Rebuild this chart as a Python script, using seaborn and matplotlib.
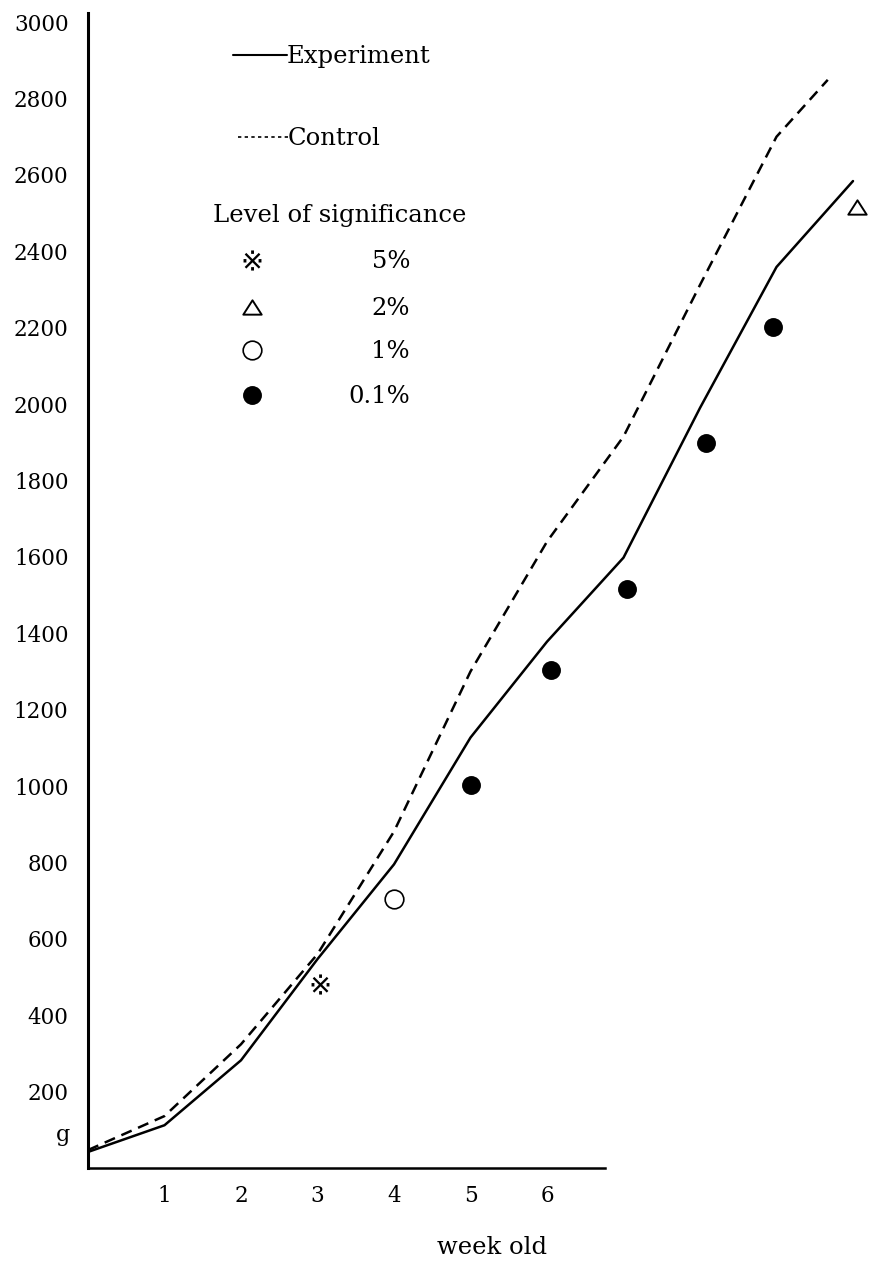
import matplotlib
matplotlib.use("Agg")
import matplotlib.pyplot as plt
from matplotlib.path import Path
import pandas as pd
import seaborn as sns

# ---------------- data ----------------
weeks_exp = [0, 1, 2, 3, 4, 5, 6, 7, 8, 9, 10]
experiment = [42, 112, 282, 547, 795, 1127, 1378, 1598, 1990, 2359, 2584]
weeks_ctrl = [0, 1, 2, 3, 4, 5, 6, 7, 8, 9, 9.67]
control = [47, 136, 324, 560, 881, 1300, 1640, 1915, 2312, 2700, 2849]

sig_weeks = [3.03, 4, 5, 6.05, 7.05, 8.08, 8.95, 10.05]
sig_values = [481, 704, 1002, 1305, 1515, 1899, 2202, 2516]
sig_levels = ["5%", "1%", "0.1%", "0.1%", "0.1%", "0.1%", "0.1%", "2%"]
level_order = ["5%", "2%", "1%", "0.1%"]

y_ticks = [200, 400, 600, 800, 1000, 1200, 1400, 1600, 1800, 2000,
           2200, 2400, 2600, 2800, 3000]
x_ticks = [1, 2, 3, 4, 5, 6]
x_label = "week old"
unit_label = "g"
legend_title = "Level of significance"

# ---------------- figure ----------------
W, H = 873, 1261
sns.set_theme(style="white")
plt.rcParams["font.family"] = ["DejaVu Serif", "DejaVu Sans"]
plt.rcParams["text.color"] = "black"
plt.rcParams["axes.labelcolor"] = "black"
plt.rcParams["xtick.color"] = "black"
plt.rcParams["ytick.color"] = "black"

fig = plt.figure(figsize=(W / 100, H / 100), dpi=100)
ax_left, ax_bottom, ax_top = 88, 1168, 13
ax = fig.add_axes([ax_left / W, (H - ax_bottom) / H, 1 - ax_left / W, (ax_bottom - ax_top) / H])

week_px = 76.5
ax.set_xlim(0, (W - ax_left) / week_px)
ax.set_ylim(0, 3024)

def fx(px):
    return px / W

def fy(py):
    return 1 - py / H

lines = pd.DataFrame({
    "week": weeks_exp + weeks_ctrl,
    "weight": experiment + control,
    "group": ["Experiment"] * len(weeks_exp) + ["Control"] * len(weeks_ctrl),
})
sns.lineplot(data=lines, x="week", y="weight", style="group",
             dashes={"Experiment": "", "Control": (4.5, 2.8)},
             color="black", linewidth=1.8, legend=False, sort=False, ax=ax)

sig = pd.DataFrame({"week": sig_weeks, "weight": sig_values, "level": sig_levels})
tri = Path([(-1, -0.78), (1, -0.78), (0, 0.78), (-1, -0.78)],
           [Path.MOVETO, Path.LINETO, Path.LINETO, Path.CLOSEPOLY])
marker_style = {
    "5%": dict(marker="$※$", s=210, color="black", linewidth=0),
    "2%": dict(marker=tri, s=175, facecolor="white", edgecolor="black", linewidth=1.4),
    "1%": dict(marker="o", s=180, facecolor="white", edgecolor="black", linewidth=1.2),
    "0.1%": dict(marker="o", s=185, color="black", linewidth=0),
}
for lvl in level_order:
    sub = sig[sig["level"] == lvl]
    sns.scatterplot(data=sub, x="week", y="weight", ax=ax, legend=False,
                    zorder=5, **marker_style[lvl])

# axes styling
for s in ["top", "right"]:
    ax.spines[s].set_visible(False)
ax.spines["left"].set_linewidth(2.2)
ax.spines["bottom"].set_linewidth(1.8)
ax.spines["left"].set_color("black")
ax.spines["bottom"].set_color("black")
ax.spines["left"].set_bounds(0, 3024)
ax.spines["bottom"].set_bounds(0, (605 - ax_left) / week_px)

ax.set_yticks(y_ticks)
ax.set_yticklabels([str(v) for v in y_ticks])
ax.set_xticks(x_ticks)
ax.set_xticklabels([str(v) for v in x_ticks])
ax.tick_params(axis="y", length=0, pad=14, labelsize=15.5, colors="black")
ax.tick_params(axis="x", length=0, pad=12, labelsize=15.5, colors="black")
ax.set_xlabel("")
ax.set_ylabel("")
ax.grid(False)

fig.text(fx(70), fy(1135), unit_label, ha="right", va="center", fontsize=16, color="black")
fig.text(fx(492), fy(1247), x_label, ha="center", va="center", fontsize=17.5, color="black")

# legend block (manual, as in the reference)
fs = 17.5
fig.add_artist(plt.Line2D([fx(233), fx(287)], [fy(55), fy(55)], color="black", lw=1.5))
fig.text(fx(287), fy(63), "Experiment", ha="left", va="baseline", fontsize=fs, color="black")
fig.add_artist(plt.Line2D([fx(238), fx(288)], [fy(137), fy(137)], color="black",
                          lw=1.2, linestyle=(0, (2, 2))))
fig.text(fx(288), fy(145), "Control", ha="left", va="baseline", fontsize=fs, color="black")
fig.text(fx(213), fy(222), legend_title, ha="left", va="baseline", fontsize=fs, color="black")

leg_y = [260, 307, 350, 395]
for lvl, py in zip(level_order, leg_y):
    st = dict(marker_style[lvl])
    s = st.pop("s")
    ax.scatter([fx(252)], [fy(py)], transform=fig.transFigure, s=s, zorder=6,
               clip_on=False, **st)
    fig.text(fx(410), fy(py + 8), lvl, ha="right", va="baseline", fontsize=fs, color="black")

fig.savefig("out.png", dpi=100, facecolor="white")
